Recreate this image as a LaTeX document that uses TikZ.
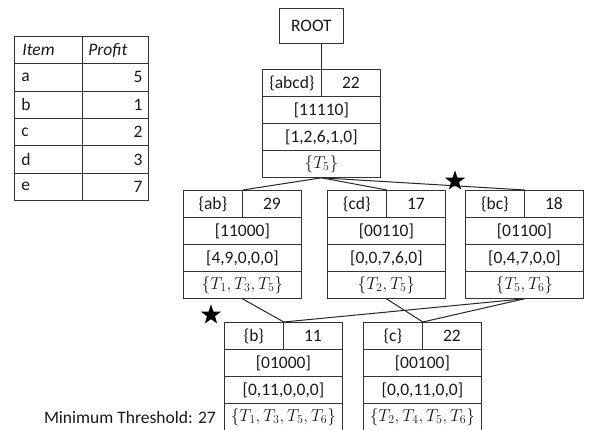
\documentclass[tikz,border=0pt]{standalone}
\usepackage{fontspec}
\setmainfont{Carlito}
\usetikzlibrary{shapes.geometric}
\tikzset{
  cell/.style={draw=black!80, line width=0.8pt, inner sep=0pt, minimum height=27pt,
    anchor=north west, font=\fontsize{17.5}{19}\selectfont, text=black!90},
  tcell/.style={cell, minimum height=27.33pt},
  conn/.style={draw=black!85, line width=1pt},
  starmark/.style={star, star points=5, star point ratio=2.5, fill=black, draw=none,
    inner sep=0pt, minimum size=21pt},
  lbl/.style={inner sep=0pt, font=\fontsize{17.5}{19}\selectfont, text=black!90}
}
\newcommand{\treebox}[8]{%
  \node[cell, minimum width=59pt] (#1-s) at (#2,#3) {#4};
  \node[cell, minimum width=59pt] (#1-v) at (#2+59,#3) {#5};
  \node[cell, minimum width=118pt] (#1-b) at (#2,#3+27) {#6};
  \node[cell, minimum width=118pt] (#1-p) at (#2,#3+54) {#7};
  \node[cell, minimum width=118pt] (#1-t) at (#2,#3+81) {#8};
}
\begin{document}
\begin{tikzpicture}[x=1pt,y=-1pt]
\useasboundingbox (0,0) rectangle (590,430);

% table
\node[tcell, minimum width=68pt, text width=52pt, align=left] (h1) at (14,36) {\itshape Item};
\node[tcell, minimum width=66pt, text width=54pt, align=left] (h2) at (82,36) {\itshape Profit};
\node[tcell, minimum width=68pt, text width=54pt, align=left] (ia) at (14,63.33) {a};
\node[tcell, minimum width=66pt, text width=54pt, align=right] (pa) at (82,63.33) {5};
\node[tcell, minimum width=68pt, text width=54pt, align=left] (ib) at (14,90.67) {b};
\node[tcell, minimum width=66pt, text width=54pt, align=right] (pb) at (82,90.67) {1};
\node[tcell, minimum width=68pt, text width=54pt, align=left] (ic) at (14,118) {c};
\node[tcell, minimum width=66pt, text width=54pt, align=right] (pc) at (82,118) {2};
\node[tcell, minimum width=68pt, text width=54pt, align=left] (id) at (14,145.33) {d};
\node[tcell, minimum width=66pt, text width=54pt, align=right] (pd) at (82,145.33) {3};
\node[tcell, minimum width=68pt, text width=54pt, align=left] (ie) at (14,172.67) {e};
\node[tcell, minimum width=66pt, text width=54pt, align=right] (pe) at (82,172.67) {7};

% root
\node[cell, minimum width=64pt, minimum height=35pt] (ROOT) at (279,8) {ROOT};

\treebox{abcd}{262}{69}{\{abcd\}}{22}{[11110]}{[1,2,6,1,0]}{$\{T_5\}$}
\treebox{ab}{183}{190}{\{ab\}}{29}{[11000]}{[4,9,0,0,0]}{$\{T_1,T_3,T_5\}$}
\treebox{cd}{327}{190}{\{cd\}}{17}{[00110]}{[0,0,7,6,0]}{$\{T_2,T_5\}$}
\treebox{bc}{465}{190}{\{bc\}}{18}{[01100]}{[0,4,7,0,0]}{$\{T_5,T_6\}$}
\treebox{b}{224}{322}{\{b\}}{11}{[01000]}{[0,11,0,0,0]}{$\{T_1,T_3,T_5,T_6\}$}
\treebox{c}{363}{322}{\{c\}}{22}{[00100]}{[0,0,11,0,0]}{$\{T_2,T_4,T_5,T_6\}$}

% connectors
\coordinate (rootfoot) at (abcd-s.north east |- ROOT.south);
\draw[conn] (rootfoot) -- (abcd-s.north east);
\draw[conn] (abcd-t.south) -- (ab-s.north east);
\draw[conn] (abcd-t.south) -- (cd-s.north east);
\draw[conn] (abcd-t.south) -- (bc-s.north east);
\draw[conn] (ab-t.south) -- (b-s.north east);
\draw[conn] (bc-t.south) -- (b-s.north east);
\draw[conn] (cd-t.south) -- (c-s.north east);
\draw[conn] (bc-t.south) -- (c-s.north east);

% stars
\node[starmark] (star1) at (455,181) {};
\node[starmark] (star2) at (211,315) {};

% threshold
\node[lbl, anchor=east] (thr) at (216,417) {Minimum Threshold: 27};
\end{tikzpicture}
\end{document}
